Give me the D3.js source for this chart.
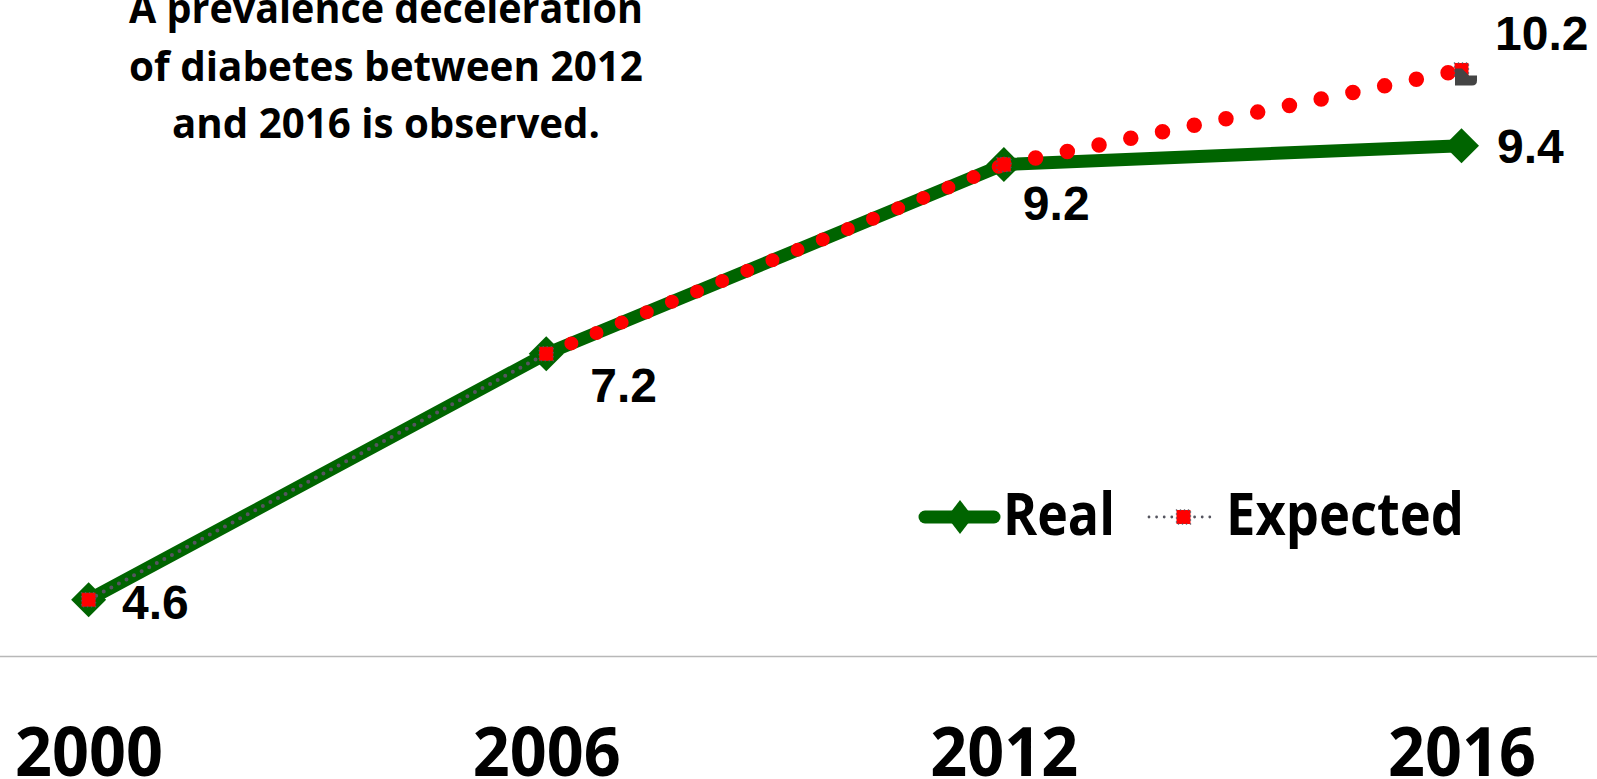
<!DOCTYPE html>
<html>
<head>
<meta charset="utf-8">
<script src="https://cdn.jsdelivr.net/npm/d3@7"></script>
<style>
  html, body { margin: 0; padding: 0; background: #fff; overflow: hidden; }
  svg { display: block; }
</style>
</head>
<body>
<svg id="chart" width="1597" height="779"></svg>
<script>
// Diabetes prevalence (%), observed vs. expected trend
const years = ["2000", "2006", "2012", "2016"];
const realValues = [4.6, 7.2, 9.2, 9.4];
const expectedValues = [4.6, 7.2, 9.2, 10.2];
const seriesNames = ["Real", "Expected"];
const titleLines = [
  "A prevalence deceleration",
  "of diabetes between 2012",
  "and 2016 is observed."
];

const W = 1597, H = 779;
const svg = d3.select("#chart");

const x = d3.scalePoint().domain(years).range([88.6, 1461.5]);
const axisY = 656.5;
const y = d3.scaleLinear().domain([4, 11]).range([axisY, axisY - 7 * 94.6]);

const GREEN = "#006400";
const RED = "#ff0000";
const GRAY = "#55555f";

// Horizontal category axis line spanning the plot
svg.append("line")
  .attr("x1", 0).attr("x2", W)
  .attr("y1", axisY).attr("y2", axisY)
  .attr("stroke", "#b8b8b8").attr("stroke-width", 1.6);

// Year labels
const xAxis = svg.append("g")
  .attr("transform", `translate(0,${axisY})`)
  .call(d3.axisBottom(x).tickSize(0));
xAxis.select(".domain").remove();
xAxis.selectAll("text")
  .attr("y", 119.5).attr("dy", 0)
  .attr("fill", "#000")
  .attr("font-family", "'Open Sans', 'Noto Sans', sans-serif")
  .attr("font-weight", 700)
  .attr("font-size", 68)
  .attr("textLength", 148)
  .attr("lengthAdjust", "spacingAndGlyphs");

// Observed series: thick green line with diamond markers
const realPts = years.map((yr, i) => ({ yr, v: realValues[i] }));
const expPts = years.map((yr, i) => ({ yr, v: expectedValues[i] }));

const line = d3.line().x(d => x(d.yr)).y(d => y(d.v));

svg.append("path")
  .datum(realPts)
  .attr("d", line)
  .attr("fill", "none")
  .attr("stroke", GREEN)
  .attr("stroke-width", 13)
  .attr("stroke-linejoin", "round");

const diamond = (cx, cy, hw, hh) =>
  `M${cx},${cy - hh}L${cx + hw},${cy}L${cx},${cy + hh}L${cx - hw},${cy}Z`;

svg.append("g").selectAll("path")
  .data(realPts)
  .join("path")
  .attr("d", d => diamond(x(d.yr), y(d.v), 17.5, 17.5))
  .attr("fill", GREEN);

// Expected series: each segment styled on its own
const segmentStyles = [
  { color: GRAY, width: 4, gap: 8.6 },
  { color: RED, width: 14, gap: 27.2 },
  { color: RED, width: 15.5, gap: 32.4 }
];
const segments = d3.pairs(expPts);
svg.append("g").selectAll("path")
  .data(segments)
  .join("path")
  .attr("d", d => line(d))
  .attr("fill", "none")
  .attr("stroke", (d, i) => segmentStyles[i].color)
  .attr("stroke-width", (d, i) => segmentStyles[i].width)
  .attr("stroke-linecap", "round")
  .attr("stroke-dasharray", (d, i) => `0 ${segmentStyles[i].gap}`);

// Square markers with a dotted gray outline
const sq = 14;
svg.append("g").selectAll("rect")
  .data(expPts)
  .join("rect")
  .attr("x", d => x(d.yr) - sq / 2)
  .attr("y", d => y(d.v) - sq / 2)
  .attr("width", sq).attr("height", sq)
  .attr("fill", RED)
  .attr("stroke", GRAY)
  .attr("stroke-width", 1.6)
  .attr("stroke-linecap", "round")
  .attr("stroke-dasharray", "0 4");

// Dark overlay on the last expected marker
const lastExp = expPts[expPts.length - 1];
{
  const cx = x(lastExp.yr), cy = y(lastExp.v);
  svg.append("path")
    .attr("d", `M${cx - 6.5},${cy - 1.5}L${cx + 0.5},${cy - 1.5}L${cx + 7.5},${cy + 5.5}` +
               `L${cx + 15.5},${cy + 5.5}L${cx + 15.5},${cy + 10.5}` +
               `Q${cx + 15.5},${cy + 15.5} ${cx + 10.5},${cy + 15.5}L${cx - 6.5},${cy + 15.5}Z`)
    .attr("fill", "#444444");
}

// Value labels
const labelFont = "'Liberation Sans', Arial, sans-serif";
const labelSize = 48;
const realLabelOffsets = [[33.4, 19], [44, 48], [19, 55], [35.5, 17.5]];
svg.append("g").selectAll("text")
  .data(realPts)
  .join("text")
  .attr("x", (d, i) => x(d.yr) + realLabelOffsets[i][0])
  .attr("y", (d, i) => y(d.v) + realLabelOffsets[i][1])
  .attr("font-family", labelFont)
  .attr("font-weight", 700)
  .attr("font-size", labelSize)
  .attr("fill", "#000")
  .text(d => d3.format(".1f")(d.v));

svg.append("text")
  .attr("x", x(lastExp.yr) + 33.5)
  .attr("y", y(lastExp.v) - 19.5)
  .attr("font-family", labelFont)
  .attr("font-weight", 700)
  .attr("font-size", labelSize)
  .attr("fill", "#000")
  .text(d3.format(".1f")(lastExp.v));

// Annotation text
const titleFont = "'Open Sans', 'Noto Sans', sans-serif";
const titleBaselines = [22.5, 80.5, 137.5];
const titleWidths = [514, 514, 428];
svg.append("g").selectAll("text")
  .data(titleLines)
  .join("text")
  .attr("x", 386)
  .attr("y", (d, i) => titleBaselines[i])
  .attr("text-anchor", "middle")
  .attr("font-family", titleFont)
  .attr("font-weight", 700)
  .attr("font-size", 42)
  .attr("textLength", (d, i) => titleWidths[i])
  .attr("lengthAdjust", "spacingAndGlyphs")
  .attr("fill", "#000")
  .text(d => d);

// Legend
const legend = svg.append("g");
const ly = 517;
legend.append("line")
  .attr("x1", 925).attr("x2", 994).attr("y1", ly).attr("y2", ly)
  .attr("stroke", GREEN).attr("stroke-width", 13).attr("stroke-linecap", "round");
legend.append("path")
  .attr("d", diamond(960, ly, 13, 17))
  .attr("fill", GREEN);
legend.append("text")
  .attr("x", 1003).attr("y", 535)
  .attr("font-family", titleFont).attr("font-weight", 700).attr("font-size", 59)
  .attr("textLength", 112).attr("lengthAdjust", "spacingAndGlyphs")
  .attr("fill", "#000")
  .text(seriesNames[0]);

legend.append("line")
  .attr("x1", 1149).attr("x2", 1210).attr("y1", ly).attr("y2", ly)
  .attr("stroke", GRAY).attr("stroke-width", 2.8)
  .attr("stroke-linecap", "round").attr("stroke-dasharray", "0 7.6");
legend.append("rect")
  .attr("x", 1183.5 - sq / 2).attr("y", ly - sq / 2)
  .attr("width", sq).attr("height", sq)
  .attr("fill", RED)
  .attr("stroke", GRAY).attr("stroke-width", 1.6)
  .attr("stroke-linecap", "round").attr("stroke-dasharray", "0 4");
legend.append("text")
  .attr("x", 1226).attr("y", 535)
  .attr("font-family", titleFont).attr("font-weight", 700).attr("font-size", 59)
  .attr("textLength", 238).attr("lengthAdjust", "spacingAndGlyphs")
  .attr("fill", "#000")
  .text(seriesNames[1]);
</script>
</body>
</html>
